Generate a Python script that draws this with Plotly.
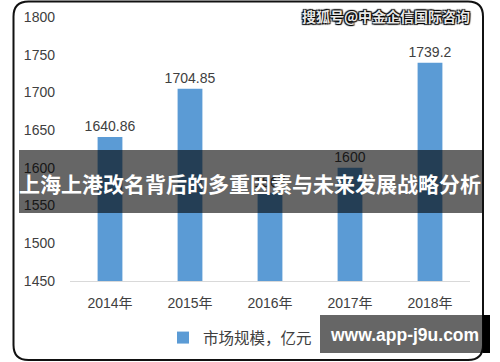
import plotly.graph_objects as go

years = ["2014年", "2015年", "2016年", "2017年", "2018年"]
market_size = [1640.86, 1704.85, 1567.0, 1600, 1739.2]
value_labels = ["1640.86", "1704.85", "1567", "1600", "1739.2"]
series_name = "市场规模，亿元"
y_ticks = [1450, 1500, 1550, 1600, 1650, 1700, 1750, 1800]

W, H = 500, 362
def px(x):
    return x / W
def py(y):
    return (H - y) / H

BLUE = "#5B9BD5"
TXT = "#404040"
FONT = "Liberation Sans, Noto Sans CJK SC, sans-serif"

fig = go.Figure()
fig.add_trace(go.Bar(
    x=years, y=market_size, name=series_name,
    marker=dict(color=BLUE, line=dict(width=0)),
    width=0.31,
    text=value_labels, textposition="outside", constraintext="none",
    textfont=dict(size=14, color=TXT, family=FONT),
    cliponaxis=False,
))

# rounded frame
L, T, R, B = 13.5, 1.5, 483, 360
r = 15
path = (f"M {px(L)},{py(T + r)} Q {px(L)},{py(T)} {px(L + r)},{py(T)} "
        f"L {px(R - r)},{py(T)} Q {px(R)},{py(T)} {px(R)},{py(T + r)} "
        f"L {px(R)},{py(B - r)} Q {px(R)},{py(B)} {px(R - r)},{py(B)} "
        f"L {px(L + r)},{py(B)} Q {px(L)},{py(B)} {px(L)},{py(B - r)} Z")
shapes = [
    dict(type="path", xref="paper", yref="paper", path=path,
         line=dict(color="#111111", width=2), layer="below"),
    # banner
    dict(type="rect", xref="paper", yref="paper", x0=px(19), x1=px(482),
         y0=py(213), y1=py(150), fillcolor="rgba(0,0,0,0.6)", line=dict(width=0), layer="above"),
    # bottom right watermark box
    dict(type="rect", xref="paper", yref="paper", x0=px(320), x1=px(483),
         y0=py(353), y1=py(315), fillcolor="rgba(0,0,0,0.6)", line=dict(width=0), layer="above"),
    dict(type="rect", xref="paper", yref="paper", x0=px(483), x1=px(490),
         y0=py(353), y1=py(315), fillcolor="#000000", line=dict(width=0), layer="above"),
]

annotations = [
    dict(text="上海上港改名背后的多重因素与未来发展战略分析", xref="paper", yref="paper",
         x=px(249.5), y=py(183), xanchor="center", yanchor="middle", showarrow=False,
         font=dict(size=21, color="white", family="Noto Sans CJK SC", weight="bold")),
    dict(text="www.app-j9u.com", xref="paper", yref="paper",
         x=px(404), y=py(335), xanchor="center", yanchor="middle", showarrow=False,
         font=dict(size=17.5, color="white", family="Liberation Sans", weight="bold")),
    dict(text="搜狐号@中金企信国际咨询", xref="paper", yref="paper",
         x=px(472), y=py(16), xanchor="right", yanchor="middle", showarrow=False,
         font=dict(size=14, color="#e8e8e8", family="Noto Sans CJK SC", weight="bold",
                   shadow="1px 1px 1px #000, -1px -1px 1px #000, 1px -1px 1px #000, -1px 1px 1px #000")),
]

fig.update_layout(
    width=W, height=H, margin=dict(l=0, r=0, t=0, b=0, autoexpand=False),
    paper_bgcolor="white", plot_bgcolor="white",
    font=dict(family=FONT, color=TXT, size=14),
    shapes=shapes, annotations=annotations,
    showlegend=True,
    legend=dict(orientation="h", x=px(163), y=py(338), xanchor="left", yanchor="middle",
                font=dict(size=15.5, color=TXT, family="Noto Sans CJK SC"),
                bgcolor="rgba(0,0,0,0)"),
    xaxis=dict(domain=[px(70), px(470)], showgrid=False, showline=True,
               linecolor="#d9d9d9", linewidth=1, ticks="", ticklabelstandoff=9,
               tickfont=dict(size=14, color=TXT, family=FONT)),
    yaxis=dict(domain=[py(281), py(17)], range=[1450, 1800], tickvals=y_ticks,
               showgrid=False, zeroline=False, showline=False, ticks="",
               ticklabelstandoff=14, tickfont=dict(size=14, color=TXT, family=FONT)),
    bargap=0.69,
)

fig.write_html("out.html")
